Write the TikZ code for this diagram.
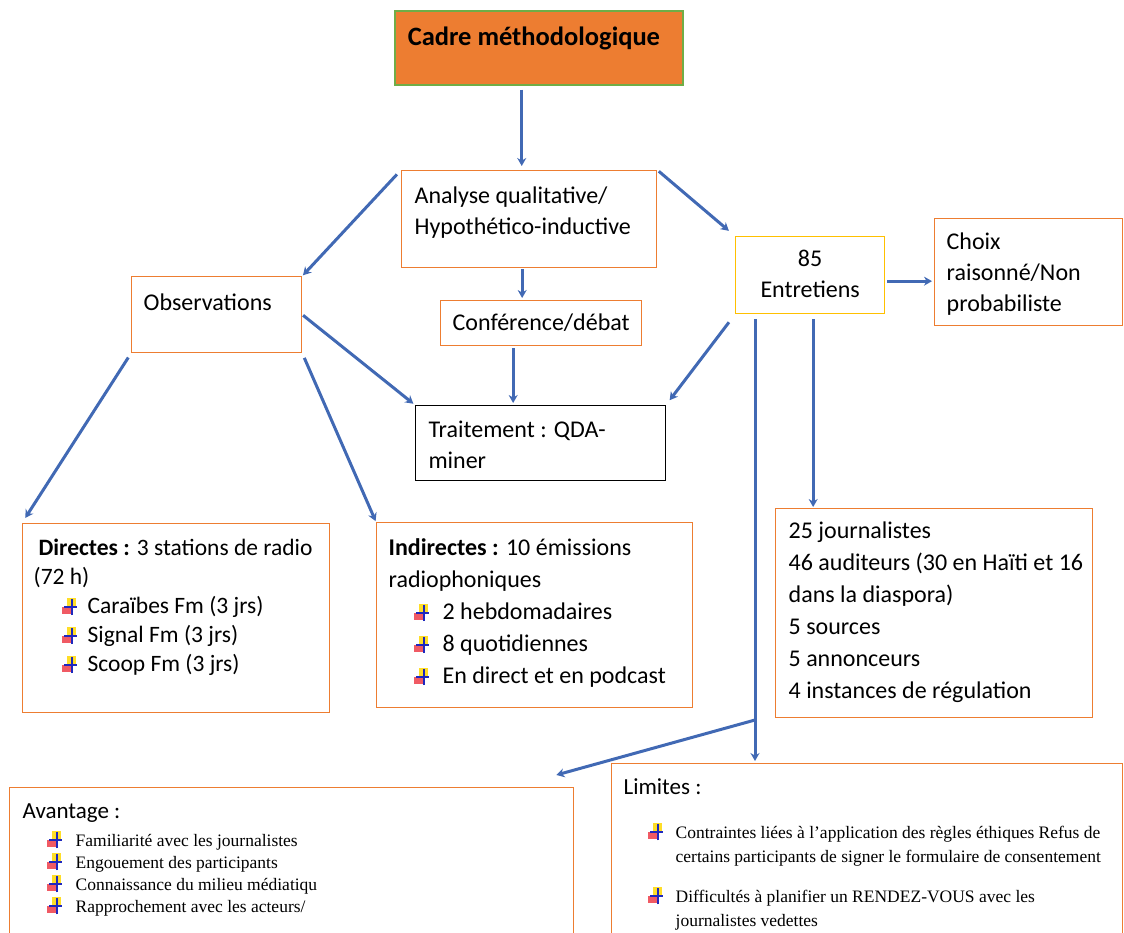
\documentclass[tikz,border=0pt]{standalone}
\usepackage{fontspec}
\setmainfont{Carlito}
\newfontfamily\tnr{Liberation Serif}
\usetikzlibrary{arrows.meta}

\definecolor{orangeB}{RGB}{237,125,49}
\definecolor{orangeF}{RGB}{237,125,49}
\definecolor{vertB}{RGB}{112,173,71}
\definecolor{jauneB}{RGB}{255,192,0}
\definecolor{bleuF}{RGB}{65,105,180}
\definecolor{puceJ}{RGB}{255,222,40}
\definecolor{puceR}{RGB}{240,90,100}
\definecolor{puceB}{RGB}{30,40,190}

% petite puce quatre couleurs
\newcommand{\puce}[1][26pt]{\makebox[#1][l]{%
  \rlap{\hspace{5pt}\raisebox{7pt}{\color{puceJ}\rule{9.5pt}{8.5pt}}}%
  \rlap{\raisebox{0pt}{\color{puceR}\rule{10pt}{7pt}}}%
  \rlap{\hspace{9pt}\raisebox{-1.5pt}{\color{puceB}\rule{2.5pt}{16.5pt}}}%
  \rlap{\hspace{2.5pt}\raisebox{5.5pt}{\color{puceB}\rule{13pt}{2.5pt}}}}}
% largeur, hauteur, marge haute, marge gauche, texte
\newcommand{\contenu}[5]{\parbox[c][#2pt][t]{#1pt}{\vspace*{#3pt}\leftskip=#4pt
  \rightskip=0pt plus 1fil\parindent=0pt\strut#5\par}}

\begin{document}
\begin{tikzpicture}[x=1pt,y=-1pt,
  boite/.style={draw=orangeB, line width=1.3pt, inner sep=0pt, anchor=north west},
  fleche/.style={draw=bleuF, line width=3pt, -{Stealth[length=8pt,width=9pt]}},
  texte/.style={font=\fontsize{24}{31}\selectfont}]
\useasboundingbox (0,0) rectangle (1124,932);
\clip (0,0) rectangle (1124,932);

\node[boite, draw=vertB, line width=1.5pt, fill=orangeF,
  font=\bfseries\fontsize{26.5}{30}\selectfont] (cadre) at (394,10)
  {\contenu{288}{74}{14}{13}{Cadre méthodologique}};
\node[boite, texte] (analyse) at (401,170)
  {\contenu{255}{97}{11}{13}{Analyse qualitative/\\Hypothético-inductive}};
\node[boite, texte] (observations) at (131,276)
  {\contenu{170}{76}{12}{12}{Observations}};
\node[boite, texte] (conference) at (440,300)
  {\contenu{201}{45}{8}{12}{Conférence/débat}};
\node[boite, texte, draw=black, line width=1pt] (traitement) at (415,405)
  {\contenu{250}{75}{10}{13}{Traitement : QDA-\\miner}};
\node[boite, texte, draw=jauneB] (entretiens) at (735,236)
  {\contenu{149}{77}{8}{0}{\centering 85\\Entretiens}};
\node[boite, texte] (choix) at (934,218)
  {\contenu{188}{107}{9}{12}{Choix\\raisonné/Non\\probabiliste}};

\node[boite, font=\fontsize{23.5}{29}\selectfont] (directes) at (22,523)
  {\contenu{307}{189}{11.7}{11}{\hspace*{5pt}\textbf{Directes :} 3 stations de radio\\(72 h)\\
  \hspace*{28pt}\puce Caraïbes Fm (3 jrs)\\
  \hspace*{28pt}\puce Signal Fm (3 jrs)\\
  \hspace*{28pt}\puce Scoop Fm (3 jrs)}};
\node[boite, font=\fontsize{24}{32}\selectfont] (indirectes) at (376,522)
  {\contenu{316}{185}{10.6}{12}{\textbf{Indirectes :} 10 émissions\\radiophoniques\\
  \hspace*{25pt}\puce[29pt]2 hebdomadaires\\
  \hspace*{25pt}\puce[29pt]8 quotidiennes\\
  \hspace*{25pt}\puce[29pt]En direct et en podcast}};
\node[boite, font=\fontsize{24}{32}\selectfont] (publics) at (775,508)
  {\contenu{317}{209}{7.6}{13}{25 journalistes\\
  46 auditeurs (30 en Haïti et 16\\dans la diaspora)\\
  5 sources\\5 annonceurs\\4 instances de régulation}};

\node[boite, font=\fontsize{23}{29}\selectfont] (avantage) at (9,787)
  {\contenu{564}{170}{10.7}{13}{Avantage :\\[3pt]\tnr\fontsize{17.5}{22}\selectfont
  \hspace*{24pt}\puce[29pt]Familiarité avec les journalistes\\
  \hspace*{24pt}\puce[29pt]Engouement des participants\\
  \hspace*{24pt}\puce[29pt]Connaissance du milieu médiatiqu\\
  \hspace*{24pt}\puce[29pt]Rapprochement avec les acteurs/}};
\node[boite, font=\fontsize{23}{29}\selectfont] (limites) at (611,763)
  {\contenu{511}{180}{10.7}{12}{Limites :\\[19pt]\tnr\fontsize{17.5}{24}\selectfont
  \hspace*{24pt}\puce[28pt]Contraintes liées à l’application des règles éthiques Refus de\\
  \hspace*{52pt}certains participants de signer le formulaire de consentement\\[16pt]
  \hspace*{24pt}\puce[28pt]Difficultés à planifier un RENDEZ-VOUS avec les\\
  \hspace*{52pt}journalistes vedettes}};

\draw[fleche, shorten <=4pt, shorten >=4pt] ([xshift=-17pt]cadre.south) -- ([xshift=-17pt]cadre.south |- analyse.north);
\draw[fleche, shorten <=6pt, shorten >=1pt] (analyse.north west) -- (observations.north east);
\draw[fleche, shorten <=2pt, shorten >=8pt] (analyse.north east) -- (entretiens.north west);
\draw[fleche, shorten <=1pt, shorten >=2pt] ([xshift=-7pt]analyse.south) -- ([xshift=-7pt]analyse.south |- conference.north);
\draw[fleche, shorten <=2pt, shorten >=2pt] ([xshift=-28pt]conference.south) -- ([xshift=-28pt]conference.south |- traitement.north);
\draw[fleche, shorten <=1pt, shorten >=2pt] (observations.east) -- (traitement.north west);
\draw[fleche, shorten <=10pt, shorten >=6pt] (entretiens.south west) -- (traitement.north east);
\draw[fleche, shorten <=2pt, shorten >=2pt] ([yshift=-6pt]entretiens.east) -- ([yshift=-6pt]entretiens.east -| choix.west);
\draw[fleche, shorten <=5pt, shorten >=6pt] (observations.south west) -- (directes.north west);
\draw[fleche, shorten <=5pt, shorten >=1pt] (observations.south east) -- (indirectes.north west);
\draw[fleche, shorten <=5pt, shorten >=1pt] ([xshift=3pt]entretiens.south) -- ([xshift=3pt]entretiens.south |- publics.north);
\draw[fleche, shorten <=5pt, shorten >=2pt] ([xshift=20pt]entretiens.south west) -- ([xshift=20pt]entretiens.south west |- limites.north);
\coordinate (branche) at (755,720);
\draw[fleche] (branche) -- ([shift={(-18,-12)}]avantage.north east);
\end{tikzpicture}
\end{document}
